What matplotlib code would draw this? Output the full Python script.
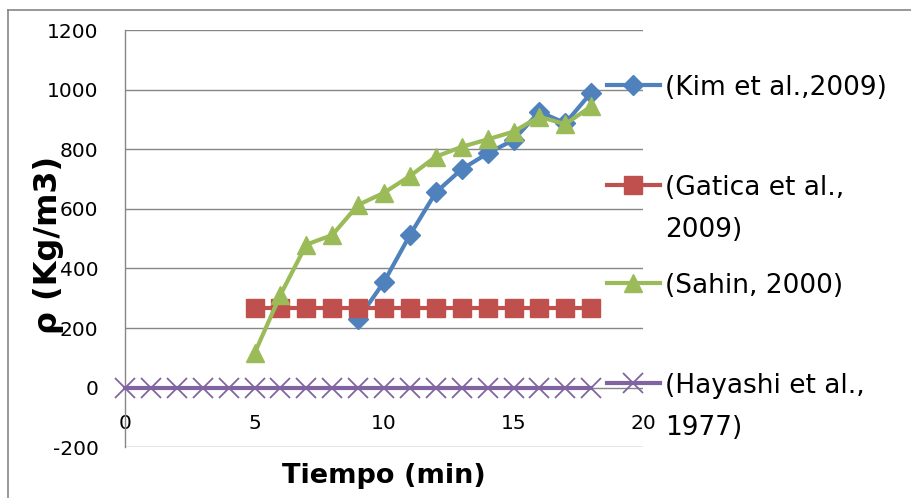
import matplotlib
matplotlib.use("Agg")
import matplotlib.pyplot as plt
from matplotlib.lines import Line2D

plt.rcParams["axes.unicode_minus"] = False

# data
kim_t = [9, 10, 11, 12, 13, 14, 15, 16, 17, 18]
kim_rho = [230, 355, 512, 655, 733, 786, 831, 926, 887, 990]

gatica_t = [5, 6, 7, 8, 9, 10, 11, 12, 13, 14, 15, 16, 17, 18]
gatica_rho = [268] * len(gatica_t)

sahin_t = [5, 6, 7, 8, 9, 10, 11, 12, 13, 14, 15, 16, 17, 18]
sahin_rho = [115, 311, 480, 512, 613, 654, 710, 775, 808, 833, 859, 909, 884, 944]

hayashi_t = list(range(0, 19))
hayashi_rho = [0] * len(hayashi_t)

labels = ["(Kim et al.,2009)", "(Gatica et al.,\n2009)", "(Sahin, 2000)", "(Hayashi et al.,\n1977)"]
y_ticks = [-200, 0, 200, 400, 600, 800, 1000, 1200]
x_ticks = [0, 5, 10, 15, 20]

colors = ["#4F81BD", "#C0504D", "#9BBB59", "#8064A2"]
markers = ["D", "s", "^", "x"]
msizes = [10, 13, 13.5, 14.5]

W, H = 912, 498
fig = plt.figure(figsize=(W / 100, H / 100), dpi=100)
ax = fig.add_axes([125 / W, 1 - 447.3 / H, 518 / W, 417.3 / H])

series = [(kim_t, kim_rho), (gatica_t, gatica_rho), (sahin_t, sahin_rho), (hayashi_t, hayashi_rho)]
for i, (t, r) in enumerate(series):
    if markers[i] == "x":
        ax.plot(t, r, color=colors[i], lw=3, marker="x", ms=msizes[i], mew=1.3,
                zorder=3 + i, clip_on=False)
    else:
        ax.plot(t, r, color=colors[i], lw=3, marker=markers[i], ms=msizes[i],
                mfc=colors[i], mec=colors[i], zorder=3 + i, clip_on=False)

ax.set_xlim(0, 20)
ax.set_ylim(-200, 1200)
ax.set_yticks(y_ticks)
ax.set_xticks(x_ticks)
ax.yaxis.grid(True, color="#868686", lw=1.0)
ax.set_axisbelow(True)
for s in ["top", "right"]:
    ax.spines[s].set_visible(False)
ax.spines["left"].set_color("#868686")
ax.spines["left"].set_linewidth(1.0)
ax.spines["bottom"].set_position(("data", 0))
ax.spines["bottom"].set_visible(False)
ax.tick_params(axis="y", length=0, pad=19, labelsize=14.5)
ax.tick_params(axis="x", length=0, pad=19, labelsize=14.5)

fig.text(384 / W, 1 - 476 / H, "Tiempo (min)", fontsize=19.5, fontweight="bold",
         ha="center", va="center")
fig.text(49 / W, 1 - 245 / H, "ρ (Kg/m3)", fontsize=23, fontweight="bold",
         rotation=90, ha="center", va="center")

# legend drawn by hand so the handle sits on the first text line
leg_y = [85, 185, 283, 383]
for i, lab in enumerate(labels):
    yf = 1 - leg_y[i] / H
    fig.add_artist(Line2D([607 / W, 660 / W], [yf, yf], color=colors[i], lw=3,
                          transform=fig.transFigure))
    if markers[i] == "x":
        fig.add_artist(Line2D([633 / W], [yf], color=colors[i], marker="x",
                              ms=msizes[i], mew=1.3, transform=fig.transFigure))
    else:
        fig.add_artist(Line2D([633 / W], [yf], color=colors[i], marker=markers[i],
                              ms=msizes[i], mfc=colors[i], mec=colors[i],
                              transform=fig.transFigure))
    for j, part in enumerate(lab.split("\n")):
        fig.text(665 / W, 1 - (leg_y[i] + 10 + 42 * j) / H, part, fontsize=19,
                 ha="left", va="baseline")

# chart area border (left and top edges visible)
fig.add_artist(Line2D([8 / W, 8 / W], [0, 1 - 10 / H], color="#868686", lw=1.2,
                      transform=fig.transFigure))
fig.add_artist(Line2D([8 / W, 1], [1 - 10 / H, 1 - 10 / H], color="#868686", lw=1.2,
                      transform=fig.transFigure))

fig.savefig("out.png", dpi=100)
